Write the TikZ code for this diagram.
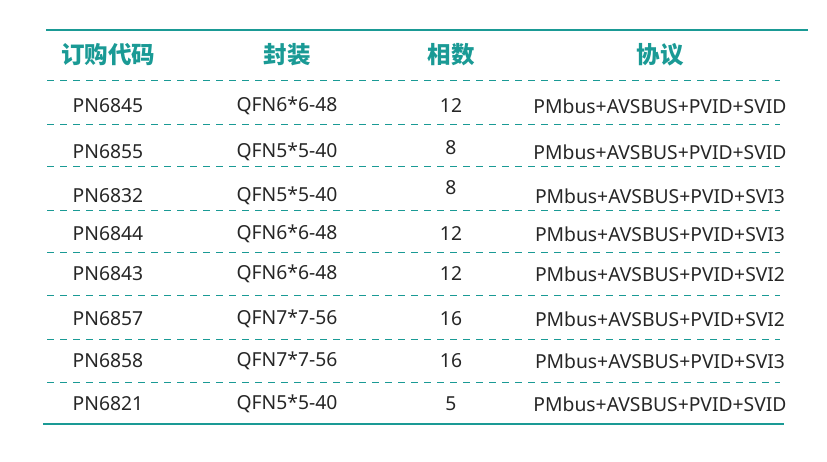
\documentclass[tikz,border=0pt]{standalone}
\usepackage{fontspec}
\setmainfont{Noto Sans}
\newfontfamily\cjk{Noto Sans CJK SC}
\definecolor{teal1}{HTML}{1A9A95}
\tikzset{
  head/.style={text=teal1, font=\cjk\fontsize{23.5}{26}\selectfont\bfseries},
  cell/.style={text=black!85, font=\fontsize{19.3}{22}\selectfont},
  rule/.style={draw=teal1, line width=1.2pt},
  sep/.style={draw=teal1, line width=1pt, dash pattern=on 7pt off 6pt}
}
\begin{document}
\begin{tikzpicture}[x=1pt, y=-1pt]
  \useasboundingbox (0,0) rectangle (827,462);
  % header
  \node[head] (h1) at (108,55) {订购代码};
  \node[head] (h2) at (287,55) {封装};
  \node[head] (h3) at (451,55) {相数};
  \node[head] (h4) at (660,55) {协议};
  \draw[rule] (46,30) -- (808,30);
  \draw[rule] (43,424) -- (784,424);
  \foreach \y in {81,125,167,211,253,296,339,382}
    \draw[sep] (47,\y) -- (780,\y);
  % rows
  \foreach \i/\y/\ny/\code/\pkg/\ph/\prot in {
      1/106/106/PN6845/QFN6*6-48/12/SVID,
      2/152/148/PN6855/QFN5*5-40/8/SVID,
      3/196/188/PN6832/QFN5*5-40/8/SVI3,
      4/234/234/PN6844/QFN6*6-48/12/SVI3,
      5/274/274/PN6843/QFN6*6-48/12/SVI2,
      6/319/319/PN6857/QFN7*7-56/16/SVI2,
      7/361/361/PN6858/QFN7*7-56/16/SVI3,
      8/404/404/PN6821/QFN5*5-40/5/SVID} {
    \node[cell] (c\i) at (108,\y) {\code};
    \node[cell] (p\i) at (287,\y) {\pkg};
    \node[cell] (n\i) at (451,\ny) {\ph};
    \node[cell] (r\i) at (660,\y) {PMbus+AVSBUS+PVID+\prot};
  }
\end{tikzpicture}
\end{document}
